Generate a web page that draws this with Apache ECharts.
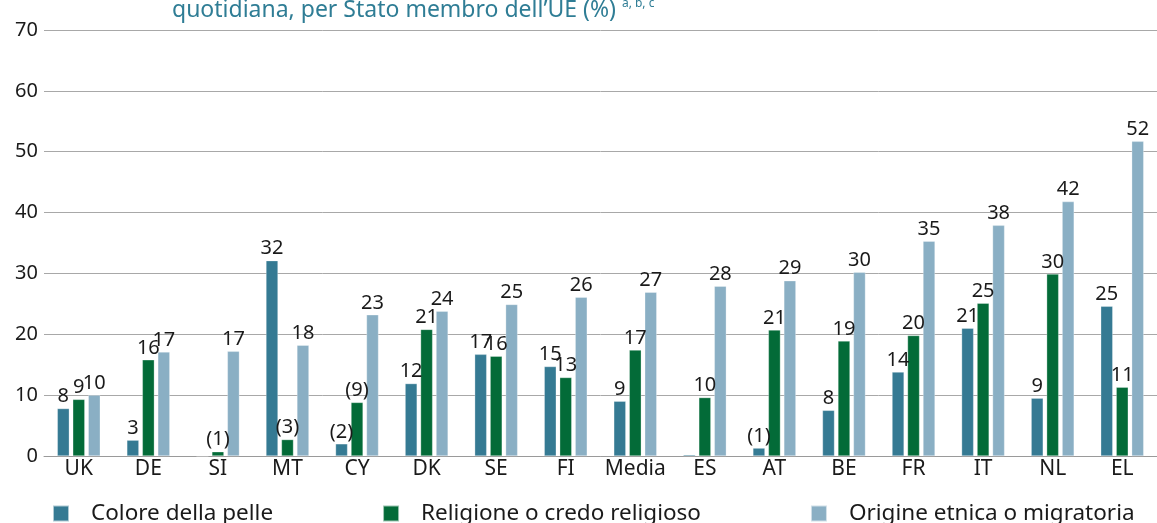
<!DOCTYPE html>
<html>
<head>
<meta charset="utf-8">
<script src="https://cdn.jsdelivr.net/npm/echarts@6/dist/echarts.min.js"></script>
<style>
  html, body { margin: 0; padding: 0; background: #fff; }
  #chart { width: 1157px; height: 523px; }
</style>
</head>
<body>
<div id="chart"></div>
<script>
const countries = ['UK', 'DE', 'SI', 'MT', 'CY', 'DK', 'SE', 'FI', 'Media', 'ES', 'AT', 'BE', 'FR', 'IT', 'NL', 'EL'];

// bar heights
const skinColour = [7.8, 2.6, 0, 32.1, 2.0, 11.9, 16.7, 14.7, 9.0, 0.2, 1.3, 7.5, 13.8, 21.0, 9.5, 24.6];
const religion = [9.3, 15.8, 0.7, 2.7, 8.8, 20.8, 16.4, 12.9, 17.4, 9.6, 20.7, 18.9, 19.8, 25.1, 29.9, 11.3];
const ethnicOrigin = [10.0, 17.1, 17.2, 18.2, 23.2, 23.8, 24.9, 26.1, 26.9, 27.9, 28.8, 30.2, 35.3, 37.9, 41.8, 51.7];

// printed labels (brackets = few answers)
const skinLabels = ['8', '3', '', '32', '(2)', '12', '17', '15', '9', '', '(1)', '8', '14', '21', '9', '25'];
const religionLabels = ['9', '16', '(1)', '(3)', '(9)', '21', '16', '13', '17', '10', '21', '19', '20', '25', '30', '11'];
const ethnicLabels = ['10', '17', '17', '18', '23', '24', '25', '26', '27', '28', '29', '30', '35', '38', '42', '52'];

const seriesNames = ['Colore della pelle', 'Religione o credo religioso', 'Origine etnica o migratoria'];
const yTicks = [0, 10, 20, 30, 40, 50, 60, 70];

const FONT = "'Noto Sans', 'DejaVu Sans', sans-serif";
const TEXT = '#1a1a1a';

const chart = echarts.init(document.getElementById('chart'), null, { renderer: 'canvas' });

function bar(name, values, labels, color) {
  return {
    name: name,
    type: 'bar',
    data: values,
    barWidth: 12,
    barGap: '29%',
    itemStyle: { color: color, borderColor: 'rgba(255,255,255,0.6)', borderWidth: 0.5 },
    label: {
      show: true,
      position: 'top',
      distance: 2,
      color: TEXT,
      fontFamily: FONT,
      fontSize: 20,
      formatter: (p) => labels[p.dataIndex]
    },
    emphasis: { disabled: true }
  };
}

chart.setOption({
  animation: false,
  textStyle: { fontFamily: FONT },
  grid: { left: 44, right: -13, top: 30, bottom: 67, containLabel: false },
  legend: {
    left: 52,
    top: 502,
    padding: 0,
    itemWidth: 16,
    itemHeight: 16,
    itemGap: 109,
    icon: 'rect',
    textStyle: { color: TEXT, fontSize: 22.5, fontFamily: FONT, padding: [0, 0, 0, 17] },
    data: seriesNames
  },
  graphic: [{
    type: 'text',
    left: 172,
    top: -2,
    style: {
      text: 'quotidiana, per Stato membro dell’UE (%) {sup|a, b, c}',
      fill: '#2f7d95',
      font: '23px ' + FONT,
      rich: {
        sup: { fontSize: 12, fill: '#2f7d95', fontFamily: FONT, padding: [0, 0, 13, 0] }
      }
    }
  }],
  xAxis: {
    type: 'category',
    data: countries,
    axisTick: { show: false },
    axisLine: { lineStyle: { color: '#9a9a9a', width: 1 } },
    axisLabel: { color: TEXT, fontSize: 21, fontFamily: FONT, margin: 3, interval: 0 }
  },
  yAxis: {
    type: 'value',
    min: yTicks[0],
    max: yTicks[yTicks.length - 1],
    interval: 10,
    axisLine: { show: false },
    axisTick: { show: false },
    splitLine: { lineStyle: { color: '#a8a8a8', width: 1 } },
    axisLabel: { color: TEXT, fontSize: 20, fontFamily: FONT, margin: 6 }
  },
  series: [
    bar(seriesNames[0], skinColour, skinLabels, '#357a93'),
    bar(seriesNames[1], religion, religionLabels, '#036b38'),
    bar(seriesNames[2], ethnicOrigin, ethnicLabels, '#8aafc4')
  ]
});
</script>
</body>
</html>
